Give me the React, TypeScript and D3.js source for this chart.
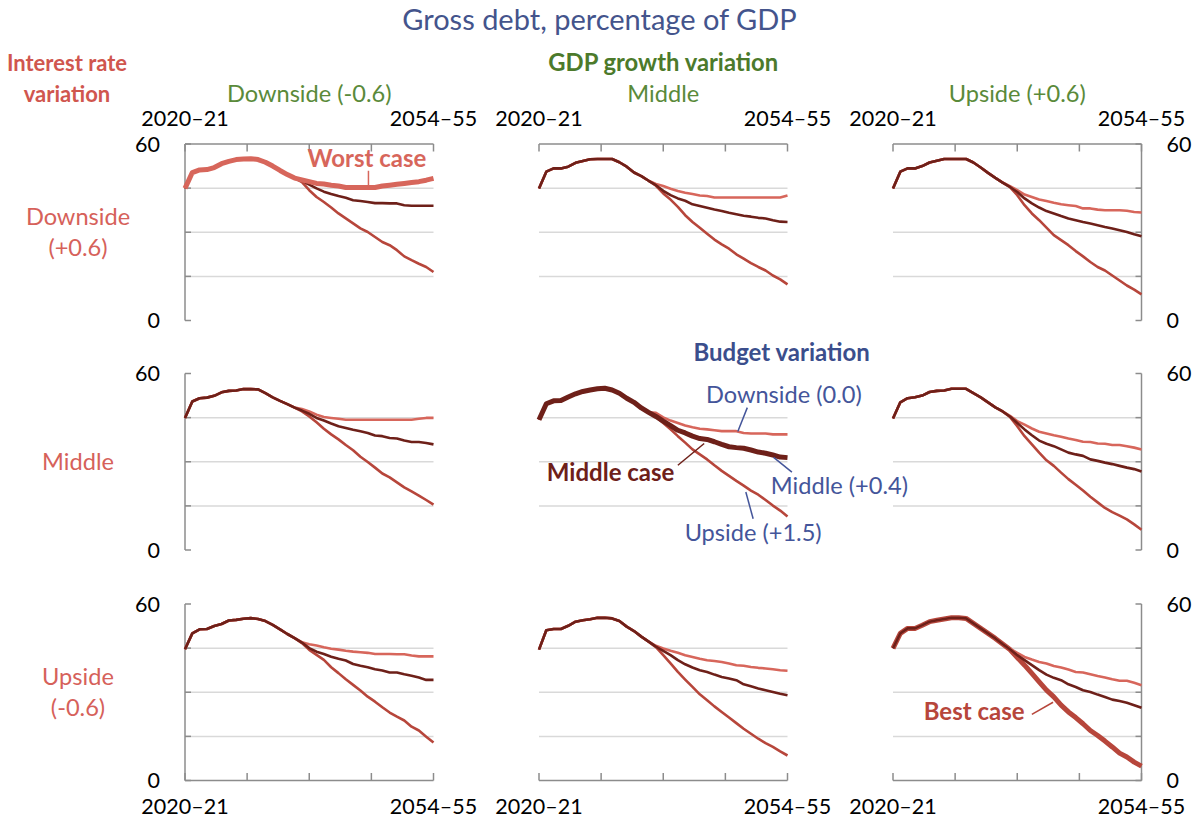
import { useEffect, useRef } from 'react';
import * as d3 from 'd3';

// 35 financial years, 2020–21 to 2054–55
const years = d3.range(2020, 2055).map(y => `${y}–${String((y + 1) % 100).padStart(2, '0')}`);

// Per panel: shared path up to 2035–36, then the three budget variations (2036–37 on)
// row = interest rate (downside, middle, upside); col = GDP growth (downside, middle, upside)
const head = [
  [
    [44.9, 50.3, 51.2, 51.3, 52.0, 53.3, 54.1, 54.7, 54.9, 55.0, 54.7, 53.8, 52.5, 51.0, 49.6, 48.4],
    [44.9, 50.6, 51.7, 51.7, 52.3, 53.6, 54.2, 54.8, 54.9, 54.9, 54.9, 53.8, 52.3, 50.3, 49.1, 47.5],
    [44.9, 50.6, 51.7, 51.7, 52.5, 53.7, 54.3, 54.9, 54.9, 54.9, 54.9, 53.7, 52.0, 50.2, 48.5, 46.9],
  ],
  [
    [44.9, 50.5, 51.6, 51.8, 52.4, 53.6, 54.1, 54.2, 54.7, 54.7, 54.6, 53.3, 51.9, 50.7, 49.6, 48.4],
    [44.3, 49.7, 50.7, 50.8, 52.0, 53.1, 53.9, 54.4, 54.8, 55.0, 54.4, 53.3, 51.6, 50.2, 48.3, 46.8],
    [44.7, 50.2, 51.6, 51.9, 52.5, 53.7, 54.1, 54.2, 54.8, 54.8, 54.8, 53.3, 51.9, 50.2, 48.5, 47.1],
  ],
  [
    [44.6, 50.0, 51.4, 51.5, 52.5, 53.2, 54.4, 54.6, 55.0, 55.2, 54.9, 54.2, 52.9, 51.4, 49.8, 48.4],
    [44.5, 51.1, 51.5, 51.5, 52.6, 54.0, 54.5, 54.8, 55.3, 55.3, 55.1, 54.2, 52.3, 50.8, 48.9, 47.2],
    [44.9, 50.0, 51.7, 51.7, 52.8, 54.0, 54.5, 54.9, 55.3, 55.3, 55.1, 53.4, 51.7, 50.0, 48.3, 46.4],
  ],
];

const budgetDownside = [
  [
    [47.8, 47.2, 46.6, 46.4, 46.0, 45.7, 45.2, 45.2, 45.2, 45.2, 45.2, 45.7, 46.0, 46.3, 46.6, 46.9, 47.2, 47.7, 48.3],
    [46.4, 45.7, 44.8, 44.0, 43.4, 43.0, 42.5, 42.3, 41.8, 41.8, 41.8, 41.8, 41.8, 41.8, 41.8, 41.8, 41.8, 41.8, 42.5],
    [45.7, 44.3, 42.8, 42.0, 41.1, 40.6, 40.0, 39.5, 39.2, 38.9, 38.1, 38.1, 37.7, 37.5, 37.5, 37.5, 37.3, 36.9, 36.7],
  ],
  [
    [47.9, 47.1, 46.0, 45.2, 44.9, 44.6, 44.3, 44.3, 44.3, 44.3, 44.3, 44.3, 44.3, 44.3, 44.3, 44.3, 44.6, 44.9, 44.9],
    [46.6, 45.1, 44.0, 43.2, 42.3, 41.7, 41.2, 41.0, 40.7, 40.4, 40.4, 40.4, 39.8, 39.6, 39.6, 39.6, 39.3, 39.3, 39.3],
    [45.6, 43.8, 42.6, 41.3, 40.2, 39.6, 39.0, 38.5, 37.9, 37.4, 36.8, 36.7, 36.2, 36.1, 35.7, 35.7, 35.3, 34.8, 34.2],
  ],
  [
    [47.0, 46.3, 45.9, 45.3, 44.8, 44.5, 44.1, 43.8, 43.6, 43.4, 43.0, 43.0, 43.0, 42.9, 42.9, 42.5, 42.2, 42.2, 42.2],
    [45.8, 44.9, 44.1, 43.4, 42.6, 42.0, 41.4, 40.9, 40.6, 40.3, 39.8, 39.2, 39.0, 38.6, 38.3, 38.1, 37.8, 37.5, 37.3],
    [44.8, 43.4, 42.0, 41.1, 40.3, 39.8, 38.9, 38.4, 37.7, 36.9, 36.7, 36.1, 35.5, 35.0, 34.4, 33.9, 33.9, 33.2, 32.4],
  ],
];

const budgetMiddle = [
  [
    [47.3, 46.2, 44.9, 43.8, 43.0, 42.3, 41.7, 40.9, 40.6, 40.3, 39.9, 39.9, 39.8, 39.8, 39.2, 39.0, 39.0, 39.0, 39.0],
    [46.0, 44.1, 42.6, 41.5, 40.7, 39.5, 38.9, 38.3, 37.7, 37.2, 36.6, 36.1, 35.6, 35.3, 34.9, 34.7, 34.1, 33.6, 33.5],
    [45.4, 43.7, 41.5, 39.8, 38.4, 37.2, 36.4, 35.5, 34.7, 34.1, 33.5, 33.0, 32.4, 31.8, 31.3, 30.7, 30.1, 29.3, 28.6],
  ],
  [
    [47.4, 46.3, 44.9, 44.0, 43.0, 42.1, 41.5, 40.9, 40.4, 39.8, 38.9, 38.7, 38.1, 37.9, 37.2, 36.7, 36.7, 36.4, 35.9],
    [45.4, 43.8, 42.3, 40.7, 39.8, 38.7, 37.9, 37.6, 36.8, 35.9, 35.1, 34.8, 34.6, 34.0, 33.3, 32.9, 32.3, 31.6, 31.4],
    [45.4, 43.2, 41.0, 39.0, 37.2, 36.1, 35.3, 34.2, 33.1, 32.5, 32.0, 30.8, 30.3, 29.7, 29.2, 28.6, 28.0, 27.5, 26.7],
  ],
  [
    [46.9, 45.0, 43.8, 43.0, 42.1, 41.4, 40.8, 39.6, 39.0, 38.5, 37.8, 37.4, 36.7, 36.7, 36.1, 35.6, 35.0, 34.2, 34.2],
    [45.5, 44.1, 42.6, 40.9, 39.5, 38.4, 37.5, 36.9, 36.0, 35.2, 34.7, 34.1, 32.7, 32.0, 31.3, 30.7, 30.1, 29.5, 29.0],
    [44.6, 42.6, 40.9, 39.2, 37.5, 36.0, 34.9, 34.1, 32.7, 31.8, 30.7, 30.1, 29.2, 28.4, 27.5, 27.0, 26.4, 25.6, 24.7],
  ],
];

const budgetUpside = [
  [
    [47.0, 44.3, 42.0, 40.3, 38.4, 36.4, 34.7, 33.0, 31.3, 30.1, 28.4, 26.7, 25.6, 23.9, 21.8, 20.5, 19.3, 18.2, 16.5],
    [45.8, 43.2, 41.1, 38.6, 35.8, 33.5, 31.5, 29.5, 27.5, 25.9, 24.4, 22.5, 21.0, 19.5, 18.2, 17.0, 15.3, 14.0, 12.3],
    [45.3, 42.6, 39.2, 36.4, 34.1, 31.6, 29.0, 27.3, 25.6, 23.6, 21.8, 19.9, 18.2, 17.0, 15.3, 13.6, 11.9, 10.5, 8.9],
  ],
  [
    [47.1, 45.4, 43.4, 41.2, 39.3, 37.6, 35.7, 33.9, 31.7, 29.9, 28.0, 26.0, 24.7, 23.0, 21.3, 19.9, 18.5, 17.0, 15.4],
    [45.2, 43.2, 41.0, 38.7, 36.5, 34.2, 32.5, 30.8, 28.8, 26.9, 25.2, 23.5, 21.9, 20.2, 18.8, 17.0, 15.1, 13.4, 11.4],
    [45.2, 42.1, 38.7, 35.9, 33.1, 30.5, 28.6, 26.3, 24.1, 22.2, 20.2, 18.1, 16.2, 14.3, 12.9, 11.7, 10.4, 8.7, 6.9],
  ],
  [
    [46.7, 44.4, 42.7, 41.0, 38.5, 36.5, 34.4, 32.5, 30.6, 28.5, 26.8, 24.9, 23.1, 21.7, 20.4, 18.3, 17.0, 14.9, 12.9],
    [45.3, 42.6, 39.8, 36.9, 34.3, 31.8, 29.3, 27.3, 25.2, 23.3, 21.4, 19.5, 17.6, 15.9, 14.2, 12.7, 11.4, 9.9, 8.5],
    [44.5, 41.8, 39.2, 36.4, 33.5, 30.7, 28.4, 25.6, 23.3, 21.4, 19.3, 17.0, 15.3, 13.4, 11.4, 9.3, 8.0, 6.25, 4.9],
  ],
];

const gdpLabels = ['Downside (-0.6)', 'Middle', 'Upside (+0.6)'];
const rateLabels = [['Downside', '(+0.6)'], ['Middle'], ['Upside', '(-0.6)']];
const gridValues = [15, 30, 45];
const yTicks = [0, 15, 30, 45, 60];
const yLabels = [0, 60];

const COLORS = { down: '#D7665B', mid: '#6E2019', up: '#B7463B' };
const BLUE = '#44559A';
const FONT = 'Lato, "Open Sans", sans-serif';
const NUM_SIZE = 21.5;
const TEXT_SIZE = 23.6;

// annotations: position in panel data space (year index, value)
const notes = [
  { r: 0, c: 0, text: 'Worst case', i: 24.9, v: 52.2, bold: true, color: COLORS.down, leader: [25.1, 50.9, 25.1, 45.6] },
  { r: 1, c: 1, text: 'Budget variation', i: 33.2, v: 64.2, bold: true, color: '#3B4E8C', leader: null },
  { r: 1, c: 1, text: 'Downside (0.0)', i: 33.5, v: 50.0, bold: false, color: BLUE, leader: [28.5, 48.4, 27.2, 40.3] },
  { r: 1, c: 1, text: 'Middle case', i: 9.8, v: 23.4, bold: true, color: COLORS.mid, leader: [19.0, 28.8, 22.6, 36.2] },
  { r: 1, c: 1, text: 'Middle (+0.4)', i: 41.1, v: 19.0, bold: false, color: BLUE, leader: [32.1, 31.5, 34.6, 26.5] },
  { r: 1, c: 1, text: 'Upside (+1.5)', i: 29.3, v: 2.9, bold: false, color: BLUE, leader: [28.3, 19.7, 29.3, 10.6] },
  { r: 2, c: 2, text: 'Best case', i: 11.1, v: 20.5, bold: true, color: COLORS.up, leader: [19.0, 22.5, 21.9, 26.6] },
];

const colLeft = [185, 539, 893];
const rowTop = [144, 373.5, 604];
const panelW = 248.5;
const panelH = 176.5;

export default function App() {
  const svgRef = useRef<SVGSVGElement>(null);

  useEffect(() => {
    if (!svgRef.current) return;
    const svg = d3.select(svgRef.current);
    svg.selectAll('*').remove();
    svg.style('font-family', FONT);

    const x = d3.scaleLinear().domain([0, years.length - 1]).range([0, panelW]);
    const y = d3.scaleLinear().domain([0, 60]).range([panelH, 0]);
    const xTicks = d3.range(5).map(k => (k * (years.length - 1)) / 4);
    const line = d3.line<number>().x((_, i) => x(i)).y(d => y(d));

    // Title and headers
    svg.append('text').attr('x', 599.5).attr('y', 30).attr('text-anchor', 'middle')
      .attr('font-size', 29).attr('fill', '#44548C').text('Gross debt, percentage of GDP');

    svg.append('text').attr('x', 67).attr('y', 71).attr('text-anchor', 'middle')
      .attr('font-size', 22).attr('font-weight', 700).attr('fill', '#D0564E').text('Interest rate');
    svg.append('text').attr('x', 67).attr('y', 102).attr('text-anchor', 'middle')
      .attr('font-size', 22).attr('font-weight', 700).attr('fill', '#D0564E').text('variation');

    svg.append('text').attr('x', colLeft[1] + panelW / 2).attr('y', 71).attr('text-anchor', 'middle')
      .attr('font-size', 23.8).attr('font-weight', 700).attr('fill', '#4C7A2B').text('GDP growth variation');

    gdpLabels.forEach((lab, c) => {
      svg.append('text').attr('x', colLeft[c] + panelW / 2).attr('y', 102).attr('text-anchor', 'middle')
        .attr('font-size', TEXT_SIZE).attr('fill', '#5A8A3A').text(lab);
    });

    rateLabels.forEach((lines, r) => {
      const mid = rowTop[r] + panelH / 2;
      const start = mid + 8.5 - (lines.length - 1) * 15.5;
      lines.forEach((t, k) => {
        svg.append('text').attr('x', 78).attr('y', start + k * 31).attr('text-anchor', 'middle')
          .attr('font-size', TEXT_SIZE).attr('fill', '#D6615A').text(t);
      });
    });

    for (let r = 0; r < 3; r++) {
      for (let c = 0; c < 3; c++) {
        const g = svg.append('g').attr('transform', `translate(${colLeft[c]},${rowTop[r]})`);

        g.selectAll('line.grid').data(gridValues).enter().append('line')
          .attr('x1', 0).attr('x2', panelW).attr('y1', d => y(d)).attr('y2', d => y(d))
          .attr('stroke', '#D9D9D9').attr('stroke-width', 1.5);

        const axis = '#8C8C8C';
        if (r === 0 || r === 2) {
          const ay = r === 0 ? 0 : panelH;
          const dir = r === 0 ? 1 : -1;
          g.append('line').attr('x1', 0).attr('x2', panelW).attr('y1', ay).attr('y2', ay)
            .attr('stroke', axis).attr('stroke-width', 1.5);
          g.selectAll('line.xt').data(xTicks).enter().append('line')
            .attr('x1', d => x(d)).attr('x2', d => x(d)).attr('y1', ay).attr('y2', ay + dir * 7.5)
            .attr('stroke', axis).attr('stroke-width', 1.5);
          const ly = r === 0 ? -18 : panelH + 33;
          [0, years.length - 1].forEach(i => {
            g.append('text').attr('x', x(i)).attr('y', ly).attr('text-anchor', 'middle')
              .attr('font-size', NUM_SIZE).attr('fill', '#000').text(years[i]);
          });
        }
        if (c === 0 || c === 2) {
          const ax = c === 0 ? 0 : panelW;
          const dir = c === 0 ? 1 : -1;
          g.append('line').attr('x1', ax).attr('x2', ax).attr('y1', 0).attr('y2', panelH)
            .attr('stroke', axis).attr('stroke-width', 1.5);
          g.selectAll('line.yt').data(yTicks).enter().append('line')
            .attr('x1', ax).attr('x2', ax + dir * 6).attr('y1', d => y(d)).attr('y2', d => y(d))
            .attr('stroke', axis).attr('stroke-width', 1.5);
          yLabels.forEach(v => {
            g.append('text').attr('x', c === 0 ? -25 : panelW + 25).attr('y', y(v)).attr('dy', '0.36em')
              .attr('text-anchor', c === 0 ? 'end' : 'start')
              .attr('font-size', NUM_SIZE).attr('fill', '#000').text(String(v));
          });
        }

        const series = {
          down: head[r][c].concat(budgetDownside[r][c]),
          mid: head[r][c].concat(budgetMiddle[r][c]),
          up: head[r][c].concat(budgetUpside[r][c]),
        };
        let order: ('down' | 'mid' | 'up')[] = ['down', 'up', 'mid'];
        let thick = '';
        if (r === 0 && c === 0) { order = ['mid', 'up', 'down']; thick = 'down'; }
        if (r === 1 && c === 1) { thick = 'mid'; }
        if (r === 2 && c === 2) { order = ['up', 'down', 'mid']; thick = 'up'; }

        order.forEach(k => {
          g.append('path').datum(series[k]).attr('d', line)
            .attr('fill', 'none').attr('stroke', COLORS[k])
            .attr('stroke-width', k === thick ? 5 : 2.6)
            .attr('stroke-linejoin', 'round').attr('stroke-linecap', 'butt');
        });

        notes.filter(n => n.r === r && n.c === c).forEach(n => {
          if (n.leader) {
            const [i1, v1, i2, v2] = n.leader;
            g.append('line').attr('x1', x(i1)).attr('y1', y(v1)).attr('x2', x(i2)).attr('y2', y(v2))
              .attr('stroke', n.color).attr('stroke-width', 1.5);
          }
          g.append('text').attr('x', x(n.i)).attr('y', y(n.v)).attr('text-anchor', 'middle')
            .attr('font-size', n.bold ? 24 : TEXT_SIZE).attr('font-weight', n.bold ? 700 : 400)
            .attr('fill', n.color).text(n.text);
        });
      }
    }
  }, []);

  return (
    <div style={{ position: 'absolute', left: 0, top: 0, width: 1199, height: 819, background: '#fff' }}>
      <svg ref={svgRef} width={1199} height={819} style={{ display: 'block' }} />
    </div>
  );
}
